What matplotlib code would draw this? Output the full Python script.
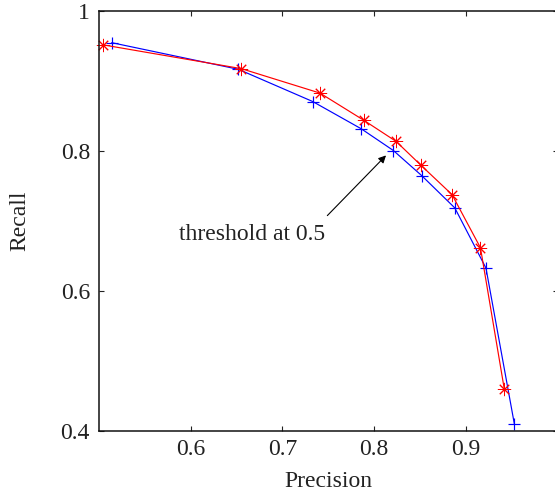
import matplotlib
matplotlib.use("Agg")
import matplotlib.pyplot as plt
from matplotlib.ticker import FormatStrFormatter

# precision / recall
blue_precision = [0.514, 0.652, 0.733, 0.786, 0.821, 0.852, 0.888, 0.922, 0.953]
blue_recall = [0.954, 0.916, 0.870, 0.831, 0.800, 0.764, 0.718, 0.632, 0.409]
red_precision = [0.504, 0.655, 0.741, 0.789, 0.824, 0.851, 0.885, 0.916, 0.942]
red_recall = [0.951, 0.917, 0.882, 0.843, 0.813, 0.779, 0.737, 0.661, 0.459]

x_ticks = [0.6, 0.7, 0.8, 0.9]
y_ticks = [0.4, 0.6, 0.8, 1.0]

plt.rcParams['font.family'] = ['Liberation Serif', 'DejaVu Serif']
plt.rcParams['font.size'] = 17

fig = plt.figure(figsize=(5.55, 4.95), dpi=100)
# right spine falls just outside the picture, as in the reference
ax = fig.add_axes([99/555, 64.5/495, 458.5/555, 420/495])

asterisk = (8, 2, 0)
ax.plot(blue_precision, blue_recall, '-', color='#0000ff', lw=0.85,
        marker='+', ms=9, mew=0.85, clip_on=False)
ax.plot(red_precision, red_recall, '-', color='#ff0000', lw=0.85,
        marker=asterisk, ms=9.5, mew=0.7, clip_on=False)

ax.set_xlim(0.5, 1.0)
ax.set_ylim(0.4, 1.0)
ax.set_xticks(x_ticks)
ax.set_yticks(y_ticks)
ax.yaxis.set_major_formatter(FormatStrFormatter('%g'))
ax.xaxis.set_major_formatter(FormatStrFormatter('%g'))
ax.tick_params(direction='in', top=True, right=True, length=3.5, width=0.8,
               colors='#222222', labelcolor='#222222')
ax.tick_params(axis='x', pad=6)
ax.tick_params(axis='y', pad=6.5)
for sp in ax.spines.values():
    sp.set_linewidth(1.1)
    sp.set_color('#111111')

ax.set_xlabel('Precision', color='#222222')
ax.set_ylabel('Recall', color='#222222')
ax.xaxis.set_label_coords(0.5, -0.122)
ax.xaxis.label.set_va('center')
ax.yaxis.set_label_coords(-0.173, 0.5)
ax.yaxis.label.set_va('center')

ax.text(0.667, 0.68, 'threshold at 0.5', ha='center', va='center', color='#222222')
ax.annotate('', xy=(0.813, 0.793), xytext=(0.749, 0.707),
            arrowprops=dict(arrowstyle='-|>', color='k', lw=0.8,
                            mutation_scale=11, shrinkA=0, shrinkB=0))

fig.savefig('out.png', dpi=100)
